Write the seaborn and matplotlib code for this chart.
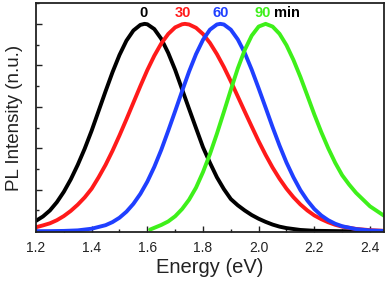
import matplotlib
matplotlib.use("Agg")
import matplotlib.pyplot as plt
import seaborn as sns
import pandas as pd
from matplotlib.ticker import MultipleLocator, FormatStrFormatter

energy_0 = [1.20, 1.225, 1.25, 1.275, 1.30, 1.325, 1.35, 1.375, 1.40, 1.425, 1.45, 1.475,
            1.50, 1.525, 1.55, 1.575, 1.59, 1.60, 1.625, 1.65, 1.675, 1.70, 1.725, 1.75,
            1.775, 1.80, 1.825, 1.85, 1.875, 1.90, 1.925, 1.95, 1.975, 2.00, 2.025, 2.05,
            2.075, 2.10, 2.15, 2.20, 2.25, 2.30, 2.35, 2.40, 2.45]
pl_0 = [0.050, 0.071, 0.100, 0.140, 0.190, 0.250, 0.320, 0.398, 0.485, 0.580, 0.675, 0.767,
        0.850, 0.919, 0.968, 0.995, 1.000, 0.998, 0.975, 0.928, 0.860, 0.778, 0.684, 0.590,
        0.497, 0.405, 0.330, 0.260, 0.203, 0.155, 0.125, 0.100, 0.078, 0.060, 0.045, 0.032,
        0.022, 0.015, 0.006, 0.002, 0.001, 0.0, 0.0, 0.0, 0.0]

energy_30 = [1.20, 1.225, 1.25, 1.275, 1.30, 1.325, 1.35, 1.375, 1.40, 1.425, 1.45, 1.475,
             1.50, 1.525, 1.55, 1.575, 1.60, 1.625, 1.65, 1.675, 1.70, 1.725, 1.735, 1.75,
             1.775, 1.80, 1.825, 1.85, 1.875, 1.90, 1.925, 1.95, 1.975, 2.00, 2.025, 2.05,
             2.075, 2.10, 2.125, 2.15, 2.175, 2.20, 2.225, 2.25, 2.275, 2.30, 2.35, 2.40, 2.45]
pl_30 = [0.019, 0.028, 0.038, 0.053, 0.073, 0.098, 0.128, 0.163, 0.205, 0.260, 0.320, 0.388,
         0.462, 0.540, 0.620, 0.700, 0.777, 0.846, 0.905, 0.951, 0.983, 0.998, 1.000, 0.997,
         0.981, 0.951, 0.908, 0.854, 0.792, 0.723, 0.650, 0.577, 0.505, 0.434, 0.368, 0.307,
         0.253, 0.205, 0.164, 0.129, 0.100, 0.076, 0.058, 0.043, 0.031, 0.022, 0.011, 0.005,
         0.002]

energy_60 = [1.20, 1.25, 1.30, 1.35, 1.40, 1.45, 1.475, 1.50, 1.525, 1.55, 1.575, 1.60, 1.625,
             1.65, 1.675, 1.70, 1.725, 1.75, 1.775, 1.80, 1.825, 1.85, 1.862, 1.875, 1.90,
             1.925, 1.95, 1.975, 2.00, 2.025, 2.05, 2.075, 2.10, 2.125, 2.15, 2.175, 2.20,
             2.225, 2.25, 2.275, 2.30, 2.35, 2.40, 2.45]
pl_60 = [0.0001, 0.0004, 0.0014, 0.004, 0.012, 0.029, 0.044, 0.065, 0.094, 0.132, 0.180,
         0.239, 0.310, 0.392, 0.484, 0.579, 0.676, 0.770, 0.854, 0.923, 0.972, 0.997, 1.000,
         0.997, 0.972, 0.925, 0.860, 0.779, 0.689, 0.596, 0.502, 0.413, 0.331, 0.260, 0.198,
         0.148, 0.107, 0.076, 0.053, 0.036, 0.024, 0.010, 0.0035, 0.001]

energy_90 = [1.61, 1.65, 1.675, 1.70, 1.725, 1.75, 1.775, 1.80, 1.825, 1.85, 1.875, 1.90,
             1.925, 1.95, 1.975, 2.00, 2.025, 2.05, 2.075, 2.10, 2.125, 2.15, 2.175, 2.20,
             2.225, 2.25, 2.275, 2.30, 2.325, 2.35, 2.40, 2.45]
pl_90 = [0.008, 0.030, 0.047, 0.072, 0.107, 0.152, 0.210, 0.285, 0.372, 0.470, 0.575, 0.682,
         0.785, 0.874, 0.943, 0.987, 1.000, 0.987, 0.952, 0.897, 0.826, 0.744, 0.654, 0.563,
         0.478, 0.400, 0.330, 0.270, 0.225, 0.185, 0.120, 0.075]

series_labels = ["0", "30", "60", "90"]
label_x = [1.585, 1.726, 1.864, 2.015]
colors = ["#000000", "#ff1a1a", "#1f3fff", "#3ef01a"]

frames = []
for lab, e, p in zip(series_labels, [energy_0, energy_30, energy_60, energy_90],
                     [pl_0, pl_30, pl_60, pl_90]):
    frames.append(pd.DataFrame({"Energy": e, "PL": p, "t": lab}))
df = pd.concat(frames, ignore_index=True)

sns.set_style("ticks")
plt.rcParams["font.family"] = ["Liberation Sans", "DejaVu Sans"]

fig = plt.figure(figsize=(3.87, 2.84), dpi=100)
ax = fig.add_axes([0.093, 0.183, 0.899, 0.806])

sns.lineplot(data=df, x="Energy", y="PL", hue="t", palette=dict(zip(series_labels, colors)),
             linewidth=2.8, legend=False, ax=ax, sort=False)

ax.set_xlim(1.2, 2.45)
ax.set_ylim(-0.004, 1.10)
ax.xaxis.set_major_locator(MultipleLocator(0.2))
ax.xaxis.set_minor_locator(MultipleLocator(0.1))
ax.yaxis.set_major_locator(MultipleLocator(0.2))
ax.yaxis.set_minor_locator(MultipleLocator(0.1))
ax.set_yticklabels([])
ax.tick_params(which="both", direction="in", top=False, right=False, width=1.0, color="#222222")
ax.tick_params(which="major", length=4)
ax.tick_params(which="minor", length=2.5)
ax.tick_params(axis="x", labelsize=10, pad=6.5, colors="#222222")
ax.xaxis.set_major_formatter(FormatStrFormatter("%.1f"))
for s in ax.spines.values():
    s.set_linewidth(1.3)
    s.set_color("#222222")

ax.set_xlabel("Energy (eV)", fontsize=14.5, labelpad=2, color="#222222")
ax.set_ylabel("PL Intensity (n.u.)", fontsize=13.5, labelpad=6, color="#222222")

for lab, xx, c in zip(series_labels, label_x, colors):
    ax.text(xx, 1.02, lab, color=c, fontsize=10.5, fontweight="bold", ha="center", va="bottom")
ax.text(2.056, 1.02, "min", color="#000000", fontsize=10.5, fontweight="bold", ha="left",
        va="bottom")

fig.savefig("out.png", dpi=100)
